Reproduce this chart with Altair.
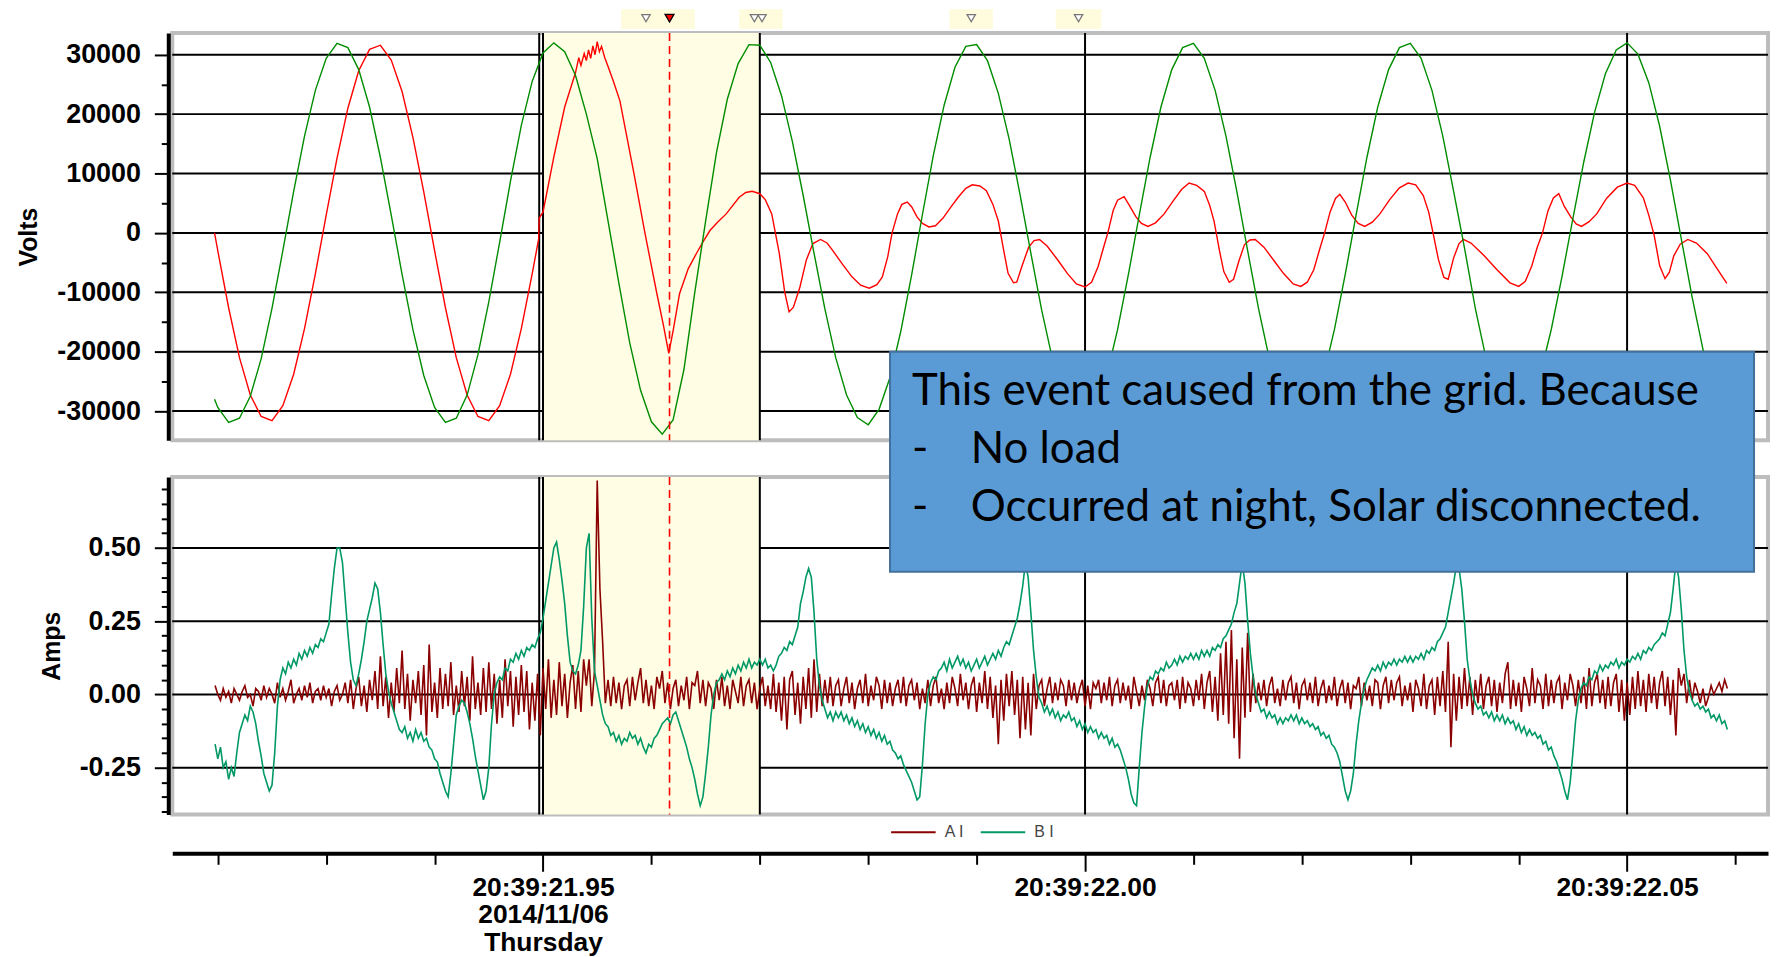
import altair as alt
import pandas as pd

# ---------------- data (time in ms after 20:39:21.90) ----------------
# B V (green) voltage samples
bv_t = [19.7] + list(range(20, 160)) + [159.3]
bv_v = [-28000,
    -29400, -31900, -31200, -27500, -21200, -12700, -3000, 7000, 16300, 24000,      # 20-29
    29400, 31900, 31200, 27500, 21200, 12700, 3000, -7000, -16300, -24000,          # 30-39
    -29400, -31900, -31200, -27300, -20500, -11600, -1600, 8700, 18100, 25500,      # 40-49
    30300, 32000, 30500, 26500, 20000, 12500, 2000, -8500, -18500, -26500,          # 50-59
    -31800, -33900, -31500, -23000, -10000, 2000, 13500, 22500, 28500, 31700,       # 60-69
    31600, 28700, 23100, 15400, 6300, -3400, -12800, -21000, -27300, -31100,        # 70-79
    -32300, -29700, -24400, -16600, -7100, 3100, 13000, 21500, 27900, 31400,        # 80-89
    31700, 29000, 23500, 15800, 6500, -3400, -13000, -21300, -27600, -31200,        # 90-99
    -32100, -29400, -24000, -16300, -7000, 3000, 12700, 21200, 27500, 31200,        # 100-109
    31900, 29400, 24000, 16300, 7000, -3000, -12700, -21200, -27500, -31200,        # 110-119
    -31900, -29400, -24000, -16300, -7000, 3000, 12700, 21200, 27500, 31200,        # 120-129
    31900, 29400, 24000, 16300, 7000, -2500, -12700, -21200, -27500, -31200,        # 130-139
    -31900, -29100, -23800, -16300, -7300, 2400, 11900, 20300, 26800, 30800,        # 140-149
    32000, 30100, 25300, 18000, 8900, -1000, -10800, -19600, -26500, -30700,        # 150-159
    -31200]

# A V (red) voltage samples
av_t = [19.7, 20, 21, 22, 23, 24, 25, 26, 27, 28, 29, 30, 31, 32, 33, 34, 35, 36, 37, 38, 39,
        40, 41, 42, 43, 44, 45, 46, 47, 48, 49, 49.6, 49.65, 50, 51, 52, 53, 53.3, 53.5, 53.8,
        54.0, 54.2, 54.4, 54.6, 54.8, 55.0, 55.2, 55.4, 55.7, 56.0, 56.5, 57.1, 57.7, 58.4, 59.4,
        60.5, 61.1, 61.6, 62.0, 62.6, 63.4, 64.2, 64.8, 65.4, 66.1, 66.9, 68.1, 68.7, 69.3, 70.0,
        70.5, 71.1, 71.8, 72.3, 72.7, 73.1, 73.7, 74.3, 74.9, 75.6, 76.2, 76.7, 77.6, 78.5, 79.3,
        80.1, 80.8, 81.3, 81.8, 82.2, 82.7, 83.1, 83.6, 84.0, 84.5, 85.0, 85.6, 86.2, 86.9, 87.6,
        88.3, 89.0, 89.6, 90.3, 90.9, 91.5, 92.0, 92.5, 92.9, 93.4, 93.7, 94.2, 94.8, 95.3, 95.8,
        96.5, 97.5, 98.4, 99.2, 100.0, 100.6, 101.2, 101.7, 102.1, 102.6, 103.0, 103.6, 104.1,
        104.7, 105.2, 105.8, 106.5, 107.3, 108.1, 108.9, 109.6, 110.3, 111.0, 111.5, 111.9,
        112.4, 112.8, 113.3, 113.7, 114.2, 114.7, 115.2, 115.7, 116.5, 117.4, 118.3, 119.2,
        119.9, 120.5, 121.1, 121.6, 122.1, 122.6, 123.1, 123.5, 124.0, 124.6, 125.2, 125.8,
        126.5, 127.2, 128.1, 129.0, 129.8, 130.5, 131.2, 131.7, 132.1, 132.6, 133.1, 133.5,
        134.0, 134.5, 134.9, 135.6, 136.8, 138.0, 139.2, 140.0, 140.6, 141.2, 141.7, 142.2,
        142.7, 143.2, 143.7, 144.2, 144.8, 145.3, 145.8, 146.5, 147.2, 148.1, 149.1, 150.0,
        150.7, 151.5, 152.0, 152.5, 153.0, 153.5, 153.9, 154.3, 154.9, 155.6, 156.4, 157.4,
        158.3, 159.2]
av_v = [0, -3000, -12600, -21000, -27300, -30900, -31600, -29100, -23800, -16100, -6900, 3000,
        12600, 21000, 27300, 30900, 31600, 29100, 23800, 16100, 6900,
        -3000, -12600, -21000, -27300, -30900, -31600, -29100, -23800, -16100, -6900, -1000, 2500,
        3500, 12800, 21200, 27000, 29500, 28200, 30200,
        29000, 30800, 29400, 31500, 30000, 32200, 30500, 31400, 29500, 28000, 25500, 22200, 16500,
        9900, 0,
        -10200, -15500, -20300, -16500, -10200, -6000, -3300, -1400, 400, 1800, 3200, 6000, 6800,
        7000, 6600,
        5600, 3200, -3500, -10000, -13300, -12500, -9100, -4500, -1800, -1100, -1700, -2900,
        -5200, -7400, -8800,
        -9300, -8700, -7400, -4000, 0, 3200, 4800, 5200, 4400, 2700, 1600, 1000, 1200, 2500, 4300,
        6000, 7500, 8100, 7900, 7100, 4800, 2000, -3000, -6800, -8400, -8300, -5500, -2400, -1300,
        -1100,
        -2200, -4600, -6900, -8600, -9100, -8300, -5700, -2500, 0, 3800, 5500, 6100, 4600,
        2700, 1600, 1100, 1700, 3200, 5300, 7300, 8400, 8000, 7000, 4600, 2000,
        -3000, -6500, -8300, -7800, -4700, -2000, -1200, -1100, -2400, -4600, -6800, -8600,
        -9000, -8300, -6200, -3000, 0, 3500, 5800, 6500, 5200, 3000, 1600, 1100,
        1800, 3200, 5600, 7600, 8400, 8100, 6300, 3500, 0, -4500, -7500, -7800,
        -4200, -1800, -1100, -1700, -3800, -6200, -8400, -9000, -8200, -5600, -2500, 0,
        3700, 5900, 6600, 4500, 2700, 1500, 1100, 1900, 3200, 5800, 7700, 8400,
        8000, 5900, 3000, -400, -5500, -7700, -6600, -3900, -1900, -1100, -1700, -3500,
        -6000, -8500]

# A I (dark red) current, 0.25 ms samples from 19.75 ms
ai_v = [0.03,
    0.00, -0.02, 0.02, -0.01,  0.01, -0.03, 0.02, 0.00,  -0.02, 0.01, 0.03, -0.01,   # 20-22
    0.00, -0.04, 0.02, 0.01,  -0.02, 0.03, -0.01, 0.02,  0.00, -0.03, 0.04, -0.01,   # 23-25
    0.02, -0.02, 0.01, 0.05,  -0.03, 0.00, 0.02, -0.02,  0.03, -0.01, 0.04, -0.03,   # 26-28
    0.01, 0.02, -0.02, 0.03,  -0.01, 0.02, -0.04, 0.01,  0.03, -0.02, 0.00, 0.04,    # 29-31
    -0.03, 0.05, -0.05, 0.02,  0.06, -0.04, 0.03, -0.06,  0.05, -0.02, 0.08, -0.05,  # 32-34
    0.13, -0.04, 0.06, -0.08,  0.04, -0.06, 0.09, -0.03,  0.15, -0.05, 0.07, -0.09,  # 35-37
    0.05, -0.03, 0.08, -0.07,  0.10, -0.14, 0.17, -0.06,  0.04, -0.08, 0.09, -0.05,  # 38-40
    0.07, -0.04, 0.11, -0.07,  0.03, -0.06, 0.08, -0.04,  0.06, -0.09, 0.13, -0.05,  # 41-43
    0.04, -0.07, 0.09, -0.06,  0.11, -0.05, 0.07, -0.10,  0.05, -0.08, 0.12, -0.04,  # 44-46
    0.08, -0.11, 0.06, -0.07,  0.10, -0.06, 0.08, -0.12,  0.04, -0.09, 0.07, -0.14,  # 47-49
    0.09, -0.05, 0.12, -0.08,  0.05, -0.07, 0.11, -0.04,  0.07, -0.08, 0.04, 0.10,   # 50-52
    -0.05, 0.08, -0.06, 0.12,  0.03, 0.12, -0.04, 0.08,  0.73, 0.36, 0.18, -0.03,    # 53-55
    0.05, -0.04, 0.06, -0.03,  0.04, -0.05, 0.03, 0.05,  -0.04, 0.06, -0.02, 0.04,   # 56-58
    0.09, -0.03, 0.05, -0.04,  0.03, -0.05, 0.06, 0.02,  0.08, -0.03, 0.04, -0.05,   # 59-61
    0.02, 0.05, -0.04, 0.03,  -0.02, 0.06, -0.05, 0.04,  0.03, 0.08, -0.03, 0.05,    # 62-64
    -0.04, 0.04, 0.02, -0.05,  0.05, -0.02, 0.06, -0.04,  0.03, -0.05, 0.05, 0.01,   # 65-67
    -0.03, 0.06, -0.04, 0.03,  0.05, -0.03, 0.04, -0.05,  0.02, 0.06, -0.04, 0.03,   # 68-70
    -0.05, 0.07, -0.06, 0.04,  -0.09, 0.06, -0.12, 0.05,  0.08, -0.07, 0.04, -0.10,  # 71-73
    0.06, -0.05, 0.09, -0.08,  0.12, -0.06, 0.07, -0.04,  0.05, -0.03, 0.06, -0.04,  # 74-76
    0.03, 0.05, -0.04, 0.02,  0.06, -0.03, 0.04, -0.05,  0.02, 0.05, -0.03, 0.07,    # 77-79
    -0.04, 0.03, -0.02, 0.06,  0.03, -0.05, 0.05, -0.03,  0.04, -0.04, 0.02, 0.05,   # 80-82
    -0.03, 0.06, -0.04, 0.03,  0.05, -0.02, 0.04, -0.05,  0.02, -0.03, 0.05, -0.04,  # 83-85
    0.03, 0.06, -0.03, 0.02,  -0.05, 0.04, -0.03, 0.06,  0.02, -0.04, 0.07, -0.02,   # 86-88
    0.04, -0.05, 0.03, 0.06,  -0.06, 0.04, -0.03, 0.08,  -0.05, 0.06, -0.08, 0.03,   # 89-91
    -0.17, 0.05, -0.09, 0.07,  -0.04, 0.08, -0.07, 0.05,  -0.15, 0.06, -0.12, 0.04,  # 92-94
    -0.14, 0.07, -0.05, 0.03,  0.05, -0.04, 0.02, 0.06,  -0.03, 0.04, -0.02, 0.05,   # 95-97
    0.03, -0.04, 0.05, -0.02,  0.04, -0.03, 0.02, 0.05,  -0.04, 0.03, -0.05, 0.04,   # 98-100
    0.02, 0.05, -0.03, 0.04,  -0.02, 0.06, -0.04, 0.03,  0.05, -0.03, 0.04, -0.02,   # 101-103
    0.03, -0.05, 0.06, 0.01,  -0.04, 0.03, -0.02, 0.05,  0.02, -0.04, 0.04, 0.06,    # 104-106
    -0.03, 0.05, -0.04, 0.03,  0.04, -0.02, 0.05, -0.05,  0.06, -0.03, 0.04, 0.02,   # 107-109
    -0.04, 0.05, -0.02, 0.07,  -0.05, 0.04, 0.08, -0.06,  0.06, -0.09, 0.14, -0.07,  # 110-112
    0.18, -0.10, 0.22, -0.15,  0.12, -0.22, 0.16, -0.08,  0.21, -0.06, 0.07, -0.03,  # 113-115
    0.04, -0.02, 0.05, -0.04,  0.03, 0.06, -0.03, 0.02,  -0.04, 0.05, -0.02, 0.04,   # 116-118
    0.06, -0.03, 0.04, -0.05,  0.03, 0.05, -0.02, 0.04,  -0.03, 0.06, -0.04, 0.02,   # 119-121
    0.05, -0.03, 0.03, -0.02,  0.06, -0.04, 0.02, 0.05,  -0.03, 0.04, -0.05, 0.03,   # 122-124
    0.02, 0.06, -0.04, 0.04,  -0.02, 0.03, -0.04, 0.05,  0.04, -0.05, 0.03, 0.06,    # 125-127
    -0.03, 0.05, -0.02, 0.04,  0.06, -0.04, 0.03, -0.02,  0.04, -0.06, 0.05, 0.02,   # 128-130
    -0.04, 0.07, -0.05, 0.03,  0.05, -0.07, 0.06, -0.04,  0.08, -0.06, 0.18, -0.18,  # 131-133
    0.07, -0.09, 0.06, -0.05,  0.09, -0.04, 0.06, -0.07,  0.05, -0.03, 0.07, -0.05,  # 134-136
    0.03, 0.06, -0.04, 0.05,  -0.06, 0.04, -0.03, 0.07,  0.11, -0.05, 0.05, -0.04,   # 137-139
    0.04, -0.06, 0.06, 0.02,  -0.04, 0.09, -0.03, 0.05,  0.03, -0.05, 0.07, -0.04,   # 140-142
    0.05, -0.03, 0.04, 0.06,  -0.05, 0.04, -0.02, 0.07,  0.03, -0.04, 0.05, -0.03,   # 143-145
    0.06, -0.05, 0.09, -0.04,  0.04, 0.07, -0.03, 0.05,  -0.05, 0.06, -0.04, 0.04,   # 146-148
    0.07, -0.06, 0.05, -0.09,  0.04, -0.07, 0.06, -0.05,  0.08, -0.04, 0.05, -0.06,  # 149-151
    0.07, -0.03, 0.06, -0.05,  0.04, 0.08, -0.04, 0.06,  -0.07, 0.05, -0.14, 0.09,   # 152-154
    0.03, 0.07, -0.03, 0.05,  -0.02, 0.04, 0.01, -0.03,  0.02, -0.04, -0.01, 0.03,   # 155-157
    0.00, 0.02, 0.04, 0.01,                                                          # 158
    0.05, 0.02]                                                                      # 159

# B I (teal) current, 0.25 ms samples from 19.75 ms
bi_v = [-0.17,
    -0.22, -0.18, -0.25, -0.23,  -0.29, -0.25, -0.28, -0.20,  -0.13, -0.10, -0.07, -0.09,   # 20-22
    -0.04, -0.06, -0.10, -0.16,  -0.21, -0.27, -0.30, -0.33,  -0.31, -0.20, -0.04, 0.05,    # 23-25
    0.09, 0.07, 0.11, 0.09,  0.12, 0.10, 0.14, 0.12,  0.15, 0.13, 0.16, 0.14,                # 26-28
    0.17, 0.16, 0.19, 0.18,  0.21, 0.24, 0.34, 0.43,  0.50, 0.50, 0.45, 0.33,                # 29-31
    0.21, 0.11, 0.05, 0.03,  0.07, 0.12, 0.18, 0.25,  0.29, 0.33, 0.38, 0.36,                # 32-34
    0.28, 0.17, 0.07, 0.01,  -0.03, -0.06, -0.09, -0.12,  -0.13, -0.11, -0.15, -0.13,       # 35-37
    -0.16, -0.12, -0.15, -0.13,  -0.16, -0.15, -0.18, -0.19,  -0.22, -0.23, -0.27, -0.30,   # 38-40
    -0.33, -0.35, -0.27, -0.17,  -0.07, -0.04, -0.02, -0.03,  -0.06, -0.10, -0.15, -0.21,   # 41-43
    -0.26, -0.31, -0.36, -0.33,  -0.25, -0.10, 0.00, 0.04,  0.06, 0.05, 0.09, 0.08,         # 44-46
    0.12, 0.11, 0.14, 0.12,  0.15, 0.13, 0.16, 0.15,  0.17, 0.16, 0.19, 0.21,                # 47-49
    0.26, 0.32, 0.38, 0.44,  0.50, 0.52, 0.46, 0.39,  0.31, 0.20, 0.11, 0.08,                # 50-52
    0.07, 0.10, 0.15, 0.30,  0.50, 0.55, 0.26, 0.08,  0.03, -0.02, -0.07, -0.10,            # 53-55
    -0.11, -0.14, -0.13, -0.16,  -0.14, -0.17, -0.15, -0.16,  -0.13, -0.15, -0.14, -0.17,   # 56-58
    -0.15, -0.18, -0.20, -0.17,  -0.18, -0.15, -0.14, -0.12,  -0.10, -0.09, -0.08, -0.10,   # 59-61
    -0.07, -0.06, -0.09, -0.12,  -0.15, -0.18, -0.22, -0.25,  -0.29, -0.34, -0.38, -0.35,   # 62-64
    -0.27, -0.18, -0.07, 0.00,  0.04, 0.05, 0.07, 0.05,  0.08, 0.06, 0.09, 0.07,             # 65-67
    0.10, 0.08, 0.11, 0.09,  0.12, 0.09, 0.11, 0.10,  0.12, 0.10, 0.12, 0.09,                # 68-70
    0.10, 0.08, 0.10, 0.13,  0.14, 0.16, 0.15, 0.18,  0.17, 0.20, 0.23, 0.31,                # 71-73
    0.35, 0.40, 0.43, 0.40,  0.28, 0.12, 0.03, -0.02,  -0.05, -0.08, -0.06, -0.09,          # 74-76
    -0.06, -0.08, -0.06, -0.09,  -0.07, -0.10, -0.08, -0.11,  -0.09, -0.12, -0.10, -0.13,   # 77-79
    -0.11, -0.14, -0.12, -0.15,  -0.13, -0.16, -0.14, -0.17,  -0.16, -0.19, -0.20, -0.22,   # 80-82
    -0.21, -0.24, -0.26, -0.28,  -0.30, -0.33, -0.36, -0.35,  -0.24, -0.10, 0.00, 0.04,     # 83-85
    0.06, 0.05, 0.08, 0.09,  0.11, 0.08, 0.12, 0.09,  0.11, 0.13, 0.10, 0.12,                # 86-88
    0.09, 0.11, 0.08, 0.10,  0.12, 0.09, 0.11, 0.13,  0.10, 0.12, 0.14, 0.12,                # 89-91
    0.15, 0.13, 0.16, 0.18,  0.17, 0.20, 0.23, 0.26,  0.31, 0.37, 0.45, 0.40,                # 92-94
    0.28, 0.15, 0.06, -0.01,  -0.03, -0.06, -0.04, -0.07,  -0.05, -0.08, -0.06, -0.09,      # 95-97
    -0.07, -0.08, -0.06, -0.09,  -0.08, -0.11, -0.09, -0.12,  -0.10, -0.13, -0.11, -0.13,   # 98-100
    -0.12, -0.15, -0.13, -0.15,  -0.14, -0.17, -0.15, -0.18,  -0.17, -0.19, -0.22, -0.25,   # 101-103
    -0.29, -0.34, -0.37, -0.38,  -0.25, -0.13, -0.04, 0.03,  0.06, 0.05, 0.08, 0.07,        # 104-106
    0.09, 0.08, 0.11, 0.09,  0.10, 0.12, 0.10, 0.13,  0.11, 0.13, 0.12, 0.14,                # 107-109
    0.12, 0.14, 0.12, 0.15,  0.13, 0.15, 0.13, 0.16,  0.15, 0.17, 0.16, 0.19,                # 110-112
    0.20, 0.22, 0.24, 0.28,  0.31, 0.38, 0.45, 0.38,  0.25, 0.14, 0.06, 0.00,                # 113-115
    -0.03, -0.06, -0.05, -0.08,  -0.06, -0.08, -0.07, -0.10,  -0.08, -0.10, -0.08, -0.09,   # 116-118
    -0.07, -0.09, -0.07, -0.10,  -0.08, -0.10, -0.09, -0.11,  -0.10, -0.12, -0.11, -0.14,   # 119-121
    -0.13, -0.15, -0.14, -0.17,  -0.18, -0.20, -0.23, -0.28,  -0.33, -0.36, -0.33, -0.27,   # 122-124
    -0.17, -0.09, -0.03, 0.02,  0.05, 0.07, 0.09, 0.08,  0.10, 0.08, 0.11, 0.09,             # 125-127
    0.11, 0.10, 0.12, 0.10,  0.12, 0.11, 0.13, 0.11,  0.13, 0.11, 0.13, 0.12,                # 128-130
    0.14, 0.12, 0.15, 0.14,  0.16, 0.15, 0.18, 0.19,  0.21, 0.23, 0.28, 0.33,                # 131-133
    0.38, 0.44, 0.43, 0.36,  0.25, 0.12, 0.05, 0.00,  -0.03, -0.05, -0.04, -0.07,           # 134-136
    -0.06, -0.08, -0.06, -0.09,  -0.07, -0.09, -0.07, -0.10,  -0.08, -0.10, -0.09, -0.12,   # 137-139
    -0.10, -0.13, -0.11, -0.14,  -0.12, -0.14, -0.13, -0.15,  -0.14, -0.17, -0.16, -0.19,   # 140-142
    -0.18, -0.21, -0.23, -0.26,  -0.29, -0.33, -0.36, -0.30,  -0.20, -0.09, -0.02, 0.02,    # 143-145
    0.04, 0.03, 0.06, 0.05,  0.08, 0.07, 0.10, 0.08,  0.10, 0.09, 0.11, 0.10,                # 146-148
    0.12, 0.09, 0.11, 0.10,  0.12, 0.11, 0.13, 0.12,  0.14, 0.12, 0.15, 0.14,                # 149-151
    0.16, 0.15, 0.17, 0.18,  0.19, 0.21, 0.20, 0.24,  0.28, 0.36, 0.45, 0.40,                # 152-154
    0.29, 0.15, 0.06, 0.01,  -0.02, -0.04, -0.03, -0.05,  -0.04, -0.06, -0.05, -0.08,       # 155-157
    -0.07, -0.09, -0.07, -0.10,                                                             # 158
    -0.09, -0.12]                                                                           # 159

volt_series = ["A V", "B V"]
volt_colors = ["#FF0000", "#008C00"]
cur_series = ["A I", "B I"]
cur_colors = ["#8B0000", "#009966"]

y_top_ticks = [-30000, -25000, -20000, -15000, -10000, -5000, 0, 5000, 10000, 15000, 20000, 25000, 30000]
y_top_grid = [-30000, -20000, -10000, 0, 10000, 20000, 30000]
y_bot_ticks = [-0.40, -0.35, -0.30, -0.25, -0.20, -0.15, -0.10, -0.05, 0.0, 0.05, 0.10, 0.15,
               0.20, 0.25, 0.30, 0.35, 0.40, 0.45, 0.50, 0.55, 0.60, 0.65, 0.70]
y_bot_grid = [-0.25, 0.0, 0.25, 0.50]
x_ticks = [20, 30, 40, 50, 60, 70, 80, 90, 100, 110, 120, 130, 140, 150, 160]
x_label_at = [50, 100, 150]
x_label_txt = [["20:39:21.95", "2014/11/06", "Thursday"], ["20:39:22.00"], ["20:39:22.05"]]

v_lines = [49.65, 50, 70, 100, 150]     # cursor / grid lines
cursor_red = [61.67]
highlight = [(49.95, 70)]
marker_t = [59.5, 69.5, 70.2, 89.5, 99.4]
marker_red_t = [61.67]
glow_t0 = [57.2, 68.1, 87.5, 97.3]
glow_t1 = [64.0, 72.1, 91.5, 101.5]

note_lines = ["This event caused from the grid. Because", "No load", "Occurred at night, Solar disconnected."]

# ---------------- layout constants ----------------
W, H1, H2 = 1603, 409, 339
T0, T1 = 15.8, 163.0
V0, V1 = -34900, 33650
I0, I1 = -0.41, 0.742
FONT = "Liberation Sans"

xs = alt.Scale(domain=[T0, T1], nice=False, zero=False)
ys_top = alt.Scale(domain=[V0, V1], nice=False, zero=False)
ys_bot = alt.Scale(domain=[I0, I1], nice=False, zero=False)

volt_df = pd.concat([
    pd.DataFrame({"t": av_t, "v": av_v, "series": "A V"}),
    pd.DataFrame({"t": bv_t, "v": bv_v, "series": "B V"}),
])
cur_df = pd.concat([
    pd.DataFrame({"t": [19.75 + 0.25 * i for i in range(len(ai_v))], "i": ai_v, "series": "A I"}),
    pd.DataFrame({"t": [19.75 + 0.25 * i for i in range(len(bi_v))], "i": bi_v, "series": "B I"}),
])

def yaxis(title, values, major_test, label_fmt):
    lab = f"({major_test}) ? (datum.value < 0 ? '-' + format(-datum.value, '{label_fmt}') : format(datum.value, '{label_fmt}')) : ''"
    return alt.Axis(values=values, title=title, labelExpr=lab, grid=False, offset=4,
                    domainColor="black", domainWidth=4, tickColor="black", tickWidth=2,
                    tickSize={"condition": {"test": major_test, "value": 14}, "value": 7},
                    labelFont=FONT, labelFontWeight="bold", labelFontSize=27, labelColor="black",
                    labelPadding=14, labelOverlap=False,
                    titleFont=FONT, titleFontWeight="bold", titleFontSize=25, titleColor="black",
                    titlePadding=15)

xlab_expr = ""
for v, txt in zip(x_label_at, x_label_txt):
    arr = "[" + ",".join(f"'{s}'" for s in txt) + "]"
    xlab_expr += f"datum.value === {v} ? {arr} : "
xlab_expr += "''"

AX_TOP_Y = yaxis("Volts", y_top_ticks, "datum.value % 10000 === 0", "d")
AX_BOT_Y = yaxis("Amps", y_bot_ticks, "abs(datum.value * 4 - round(datum.value * 4)) < 0.001", ".2f")
AX_BOT_X = alt.Axis(values=x_ticks, labelExpr=xlab_expr, title=None, grid=False, offset=39,
                    domainColor="black", domainWidth=4, tickColor="black", tickWidth=2,
                    tickSize={"condition": {"test": "datum.value % 50 === 0", "value": 18}, "value": 11},
                    labelFont=FONT, labelFontWeight="bold", labelFontSize=26.5, labelColor="black",
                    labelLineHeight=28, labelPadding=3, labelOverlap=False, labelFlush=False)

def build_panel(H, yscale, yaxis_obj, xaxis_obj):
    X = lambda f: alt.X(f, scale=xs, axis=xaxis_obj)
    Y = lambda f: alt.Y(f, scale=yscale, axis=yaxis_obj)
    hl = alt.Chart(pd.DataFrame({"a": [h[0] for h in highlight], "b": [h[1] for h in highlight]})).mark_rect(
        color="#FFFDE3").encode(x=X("a:Q"), x2="b:Q", y=alt.value(0), y2=alt.value(H))
    vl = alt.Chart(pd.DataFrame({"t": v_lines})).mark_rule(color="black", strokeWidth=2).encode(x=X("t:Q"))
    red = alt.Chart(pd.DataFrame({"t": cursor_red})).mark_rule(color="#FF0000", strokeWidth=1.6,
                                                               strokeDash=[8, 5]).encode(x=X("t:Q"))
    return X, Y, hl, vl, red

# ---------------- top panel ----------------
X1, Y1, hl1, vl1, red1 = build_panel(H1, ys_top, AX_TOP_Y, None)
hg1 = alt.Chart(pd.DataFrame({"v": y_top_grid})).mark_rule(color="black", strokeWidth=2).encode(y=Y1("v:Q"))
vlines1 = alt.Chart(volt_df).mark_line(strokeWidth=1.4).encode(
    x=X1("t:Q"), y=Y1("v:Q"),
    color=alt.Color("series:N", scale=alt.Scale(domain=volt_series, range=volt_colors), legend=None),
)
glow = alt.Chart(pd.DataFrame({"a": glow_t0, "b": glow_t1})).mark_rect(color="#FFFBD9", opacity=0.9).encode(
    x=X1("a:Q"), x2="b:Q",
    y=alt.datum(34320, scale=ys_top, axis=AX_TOP_Y), y2=alt.datum(37670))
mk = alt.Chart(pd.DataFrame({"t": marker_t})).mark_point(shape="triangle-down", filled=True, fill="white",
                                                          stroke="#777", strokeWidth=1.3, size=70, opacity=1).encode(
    x=X1("t:Q"), y=alt.datum(36160, scale=ys_top, axis=AX_TOP_Y))
mkr = alt.Chart(pd.DataFrame({"t": marker_red_t})).mark_point(shape="triangle-down", filled=True, fill="#FF0000",
                                                               stroke="black", strokeWidth=1.3, size=80, opacity=1).encode(
    x=X1("t:Q"), y=alt.datum(36160, scale=ys_top, axis=AX_TOP_Y))

top = alt.layer(hg1, hl1, vl1, vlines1, red1, glow, mk, mkr).properties(width=W, height=H1)

# ---------------- bottom panel ----------------
X2, Y2, hl2, vl2, red2 = build_panel(H2, ys_bot, AX_BOT_Y, AX_BOT_X)
hg2 = alt.Chart(pd.DataFrame({"v": y_bot_grid})).mark_rule(color="black", strokeWidth=2).encode(y=Y2("v:Q"))
clines = alt.Chart(cur_df).mark_line(strokeWidth=1.6).encode(
    x=X2("t:Q"), y=Y2("i:Q"),
    color=alt.Color("series:N", scale=alt.Scale(domain=cur_series, range=cur_colors),
                    legend=alt.Legend(orient="none", legendX=721, legendY=333, direction="horizontal",
                                      title=None, symbolType="stroke", symbolSize=2000,
                                      symbolStrokeWidth=2, labelFontSize=16, labelColor="#444",
                                      labelFont=FONT, columnPadding=12, labelOffset=8, padding=0)),
)
box = alt.Chart(pd.DataFrame({"a": [82.01], "b": [161.71], "y1": [1.170], "y2": [0.419]})).mark_rect(
    fill="#5B9BD5", stroke="#41719C", strokeWidth=2).encode(
    x=X2("a:Q"), x2="b:Q", y=Y2("y1:Q"), y2="y2:Q")

note_df = pd.DataFrame({
    "t": [84.03, 84.03, 89.45, 84.03, 89.45],
    "y": [0.987, 0.790, 0.790, 0.592, 0.592],
    "txt": [note_lines[0], "-", note_lines[1], "-", note_lines[2]],
})
note = alt.Chart(note_df).mark_text(align="left", baseline="alphabetic", font="Lato", fontSize=44,
                                    color="black").encode(x=X2("t:Q"), y=Y2("y:Q"), text="txt:N")

bottom = alt.layer(hg2, hl2, vl2, clines, red2, box, note).properties(width=W, height=H2)

chart = alt.vconcat(top, bottom, spacing=37, bounds="flush").resolve_scale(
    color="independent", x="independent", y="independent").resolve_legend(color="independent").properties(
    padding={"left": 6, "top": -3, "right": 0, "bottom": 0}, background="white"
).configure_view(stroke="#BDBDBD", strokeWidth=4)

chart.save("out.html", embed_options={"renderer": "svg", "actions": False})
